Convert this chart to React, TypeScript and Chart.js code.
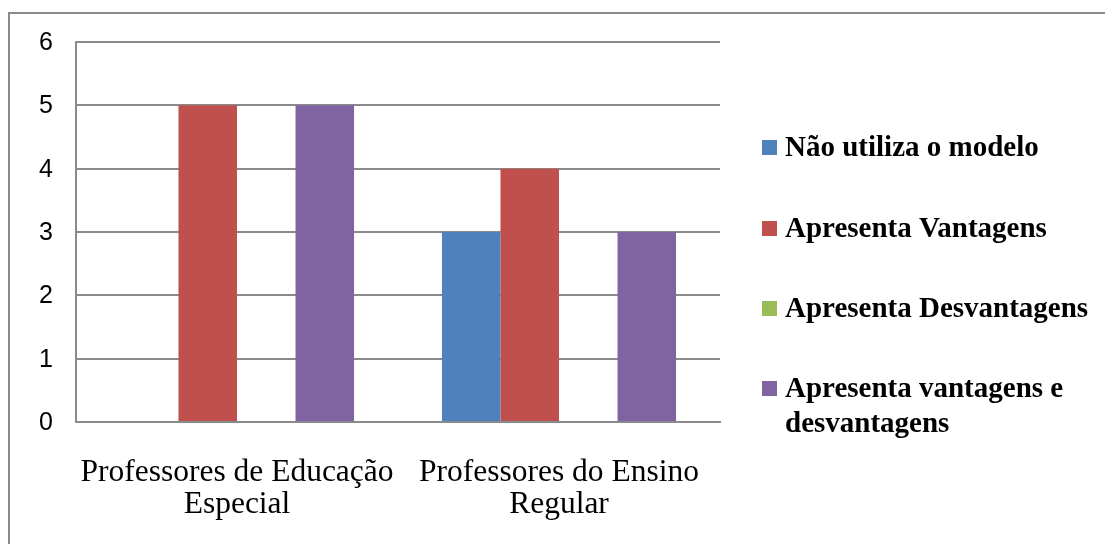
import React, { useEffect, useRef } from "react";
import { Chart, registerables } from "chart.js";

Chart.register(...registerables);

const categories: string[][] = [
  ["Professores de Educação", "Especial"],
  ["Professores do Ensino", "Regular"],
];
const seriesNames: string[][] = [
  ["Não utiliza o modelo"],
  ["Apresenta Vantagens"],
  ["Apresenta Desvantagens"],
  ["Apresenta vantagens e", "desvantagens"],
];
const naoUtiliza: number[] = [0, 3];
const vantagens: number[] = [5, 4];
const desvantagens: number[] = [0, 0];
const vantagensEDesvantagens: number[] = [5, 3];
const yTicks: number[] = [0, 1, 2, 3, 4, 5, 6];

const colors = ["#4F81BD", "#C0504D", "#9BBB59", "#8064A2"];
const GRID = "#8a8a8a";

const borderPlugin = {
  id: "outerBorder",
  beforeDraw(chart: any) {
    const ctx = chart.ctx;
    ctx.save();
    ctx.fillStyle = "#ffffff";
    ctx.fillRect(0, 0, chart.width, chart.height);
    ctx.strokeStyle = GRID;
    ctx.lineWidth = 2;
    ctx.beginPath();
    ctx.moveTo(9, chart.height + 5);
    ctx.lineTo(9, 13);
    ctx.lineTo(chart.width + 5, 13);
    ctx.stroke();
    ctx.restore();
  },
};

const legendPlugin = {
  id: "sideLegend",
  afterDraw(chart: any) {
    const ctx = chart.ctx;
    ctx.save();
    ctx.font = "bold 29px 'Liberation Serif', 'Times New Roman', serif";
    ctx.textBaseline = "alphabetic";
    ctx.textAlign = "left";
    const baselines = [156, 237, 317, 397];
    chart.data.datasets.forEach((ds: any, i: number) => {
      const lines: string[] = seriesNames[i];
      const b = baselines[i];
      ctx.fillStyle = ds.backgroundColor;
      ctx.fillRect(762, b - 16, 15, 15);
      ctx.fillStyle = "#000000";
      lines.forEach((t, j) => ctx.fillText(t, 785, b + j * 35));
    });
    ctx.restore();
  },
};

export default function App() {
  const ref = useRef<HTMLCanvasElement | null>(null);
  useEffect(() => {
    if (!ref.current) return;
    const chart = new Chart(ref.current, {
      type: "bar",
      data: {
        labels: categories,
        datasets: [
          { label: seriesNames[0].join(" "), data: naoUtiliza, backgroundColor: colors[0] },
          { label: seriesNames[1].join(" "), data: vantagens, backgroundColor: colors[1] },
          { label: seriesNames[2].join(" "), data: desvantagens, backgroundColor: colors[2] },
          { label: seriesNames[3].join(" "), data: vantagensEDesvantagens, backgroundColor: colors[3] },
        ],
      },
      options: {
        animation: false,
        responsive: true,
        maintainAspectRatio: false,
        datasets: { bar: { categoryPercentage: 0.727, barPercentage: 1, borderWidth: 0 } },
        layout: { padding: { left: 0, top: 42, right: 385, bottom: 0 } },
        plugins: { legend: { display: false }, tooltip: { enabled: false } },
        scales: {
          x: {
            grid: { display: false, drawTicks: false },
            border: { display: true, color: GRID, width: 2 },
            ticks: {
              color: "#000000",
              padding: 35,
              maxRotation: 0,
              autoSkip: false,
              font: { family: "'Liberation Serif', 'Times New Roman', serif", size: 31.5, lineHeight: 1.0 },
            },
            afterFit: (s: any) => {
              s.height = 122;
            },
          },
          y: {
            min: 0,
            max: 6,
            afterBuildTicks: (s: any) => {
              s.ticks = yTicks.map((v) => ({ value: v }));
            },
            grid: { color: GRID, lineWidth: 2, drawTicks: false },
            border: { display: true, color: GRID, width: 2 },
            ticks: {
              color: "#000000",
              padding: 23,
              labelOffset: 1,
              font: { family: "'Liberation Sans', Arial, sans-serif", size: 25 },
            },
            afterFit: (s: any) => {
              s.width = 76;
            },
          },
        },
      },
      plugins: [borderPlugin, legendPlugin],
    });
    return () => chart.destroy();
  }, []);
  return (
    <div style={{ position: "absolute", left: 0, top: 0, width: 1105, height: 544 }}>
      <canvas ref={ref} />
    </div>
  );
}
